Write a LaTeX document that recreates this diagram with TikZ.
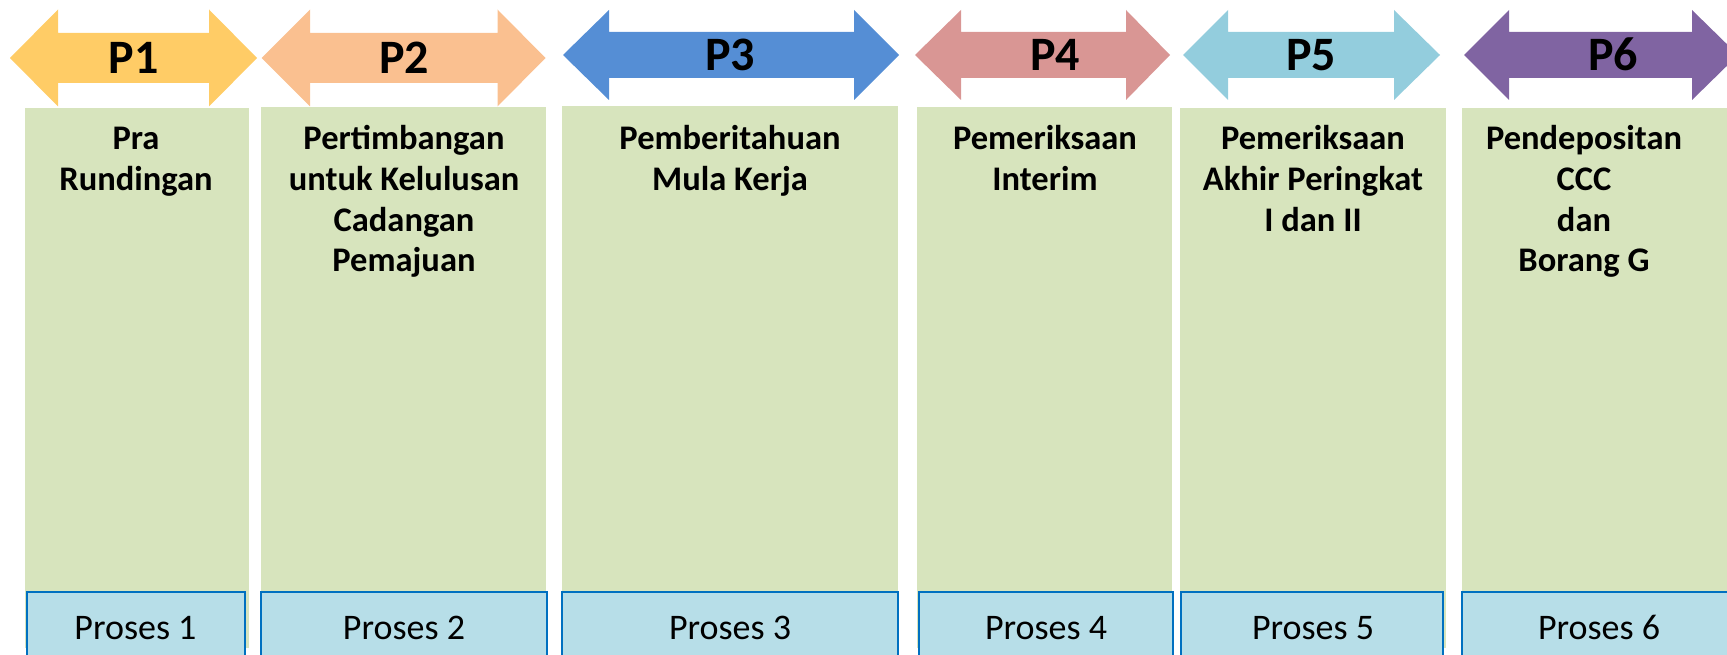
\documentclass[tikz,border=0pt]{standalone}
\usepackage{fontspec}
\setmainfont{Carlito}
\definecolor{cP1}{HTML}{FFCC66}
\definecolor{cP2}{HTML}{FAC090}
\definecolor{cP3}{HTML}{558ED5}
\definecolor{cP4}{HTML}{D99694}
\definecolor{cP5}{HTML}{93CDDD}
\definecolor{cP6}{HTML}{8064A2}
\definecolor{boxgreen}{HTML}{D7E4BD}
\definecolor{boxblue}{HTML}{B7DEE8}
\definecolor{edgeblue}{HTML}{0070C0}
\newcommand\darrow[8]{%
  \fill[#1] (#2,#6) -- (#3,#6-#8) -- (#3,#6-#7) -- (#4,#6-#7) -- (#4,#6-#8)
    -- (#5,#6) -- (#4,#6+#8) -- (#4,#6+#7) -- (#3,#6+#7) -- (#3,#6+#8) -- cycle;}
\begin{document}
\begin{tikzpicture}[x=1pt,y=-1pt,
  plabel/.style={anchor=base,inner sep=0pt,font=\fontsize{48}{48}\selectfont\bfseries},
  title/.style={anchor=base,inner sep=0pt,align=center,font=\fontsize{34.5}{40.7}\selectfont\bfseries},
  greenbox/.style={fill=boxgreen},
  prosesbox/.style={fill=boxblue,draw=edgeblue,line width=1.5pt},
  proses/.style={anchor=base,inner sep=0pt,font=\fontsize{36}{36}\selectfont}]
\useasboundingbox (0,0) rectangle (1727,655);
\clip (0,0) rectangle (1727,655);
% arrows
\darrow{cP1}{10}{58}{209}{257}{58}{25}{48.5}
\darrow{cP2}{261.5}{310}{497.5}{545.5}{58}{25}{48.5}
\darrow{cP3}{563}{609}{854}{899}{55}{23}{45}
\darrow{cP4}{915}{961}{1126}{1170}{55}{23}{45}
\darrow{cP5}{1183}{1228}{1394}{1440}{55}{23}{45}
\darrow{cP6}{1464}{1509}{1692}{1738}{55}{23}{45}
\node[plabel] (p1) at (133.5,73.5) {P1};
\node[plabel] (p2) at (404,73.5) {P2};
\node[plabel] (p3) at (730,70.7) {P3};
\node[plabel] (p4) at (1055,70.7) {P4};
\node[plabel] (p5) at (1311,70.7) {P5};
\node[plabel] (p6) at (1613,70.7) {P6};
% green columns
\fill[greenbox] (25,108) rectangle (249,648);
\fill[greenbox] (261,107) rectangle (546,648);
\fill[greenbox] (562,106) rectangle (898,648);
\fill[greenbox] (917,107) rectangle (1172,648);
\fill[greenbox] (1180,108) rectangle (1446,648);
\fill[greenbox] (1462,108) rectangle (1740,648);
% titles (anchor base = baseline of last line)
\node[title] (t1) at (136,190.7) {Pra\\Rundingan};
\node[title] (t2) at (404,272) {Pertimbangan\\untuk Kelulusan\\Cadangan\\Pemajuan};
\node[title] (t3) at (730,190.7) {Pemberitahuan\\Mula Kerja};
\node[title] (t4) at (1045,190.7) {Pemeriksaan\\Interim};
\node[title] (t5) at (1313,231.4) {Pemeriksaan\\Akhir Peringkat\\I dan II};
\node[title] (t6) at (1584,272) {Pendepositan\\CCC\\dan\\Borang G};
% proses boxes
\filldraw[prosesbox] (27,592) rectangle (245,680);
\filldraw[prosesbox] (261,592) rectangle (547,680);
\filldraw[prosesbox] (562,592) rectangle (898,680);
\filldraw[prosesbox] (919,592) rectangle (1173,680);
\filldraw[prosesbox] (1181,592) rectangle (1443,680);
\filldraw[prosesbox] (1462,592) rectangle (1736,680);
\node[proses] (s1) at (135.5,639) {Proses 1};
\node[proses] (s2) at (404,639) {Proses 2};
\node[proses] (s3) at (730,639) {Proses 3};
\node[proses] (s4) at (1046,639) {Proses 4};
\node[proses] (s5) at (1313,639) {Proses 5};
\node[proses] (s6) at (1599,639) {Proses 6};
\end{tikzpicture}
\end{document}
